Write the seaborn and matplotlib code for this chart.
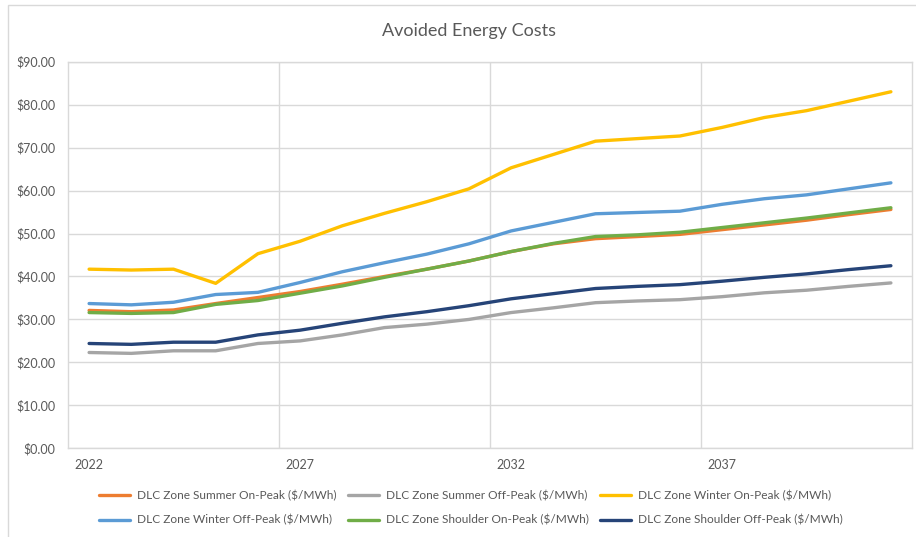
import numpy as np
import pandas as pd
import matplotlib
matplotlib.use("Agg")
import matplotlib.pyplot as plt
import seaborn as sns
from matplotlib.patches import Rectangle
from matplotlib.ticker import FixedLocator, FuncFormatter

years = list(range(2022, 2042))

summer_on = [32.1, 31.8, 32.2, 33.7, 35.1, 36.5, 38.2, 40.0, 41.7, 43.6,
             45.8, 47.6, 48.8, 49.3, 49.8, 50.9, 52.0, 53.1, 54.4, 55.6]
summer_off = [22.3, 22.1, 22.7, 22.7, 24.4, 25.0, 26.4, 28.1, 28.9, 30.0,
              31.6, 32.7, 33.9, 34.3, 34.6, 35.3, 36.2, 36.8, 37.7, 38.5]
winter_on = [41.7, 41.5, 41.7, 38.4, 45.3, 48.2, 51.8, 54.7, 57.4, 60.4,
             65.3, 68.4, 71.5, 72.1, 72.7, 74.7, 77.0, 78.6, 80.8, 83.0]
winter_off = [33.7, 33.4, 34.0, 35.8, 36.3, 38.6, 41.1, 43.2, 45.2, 47.6,
              50.6, 52.6, 54.6, 54.9, 55.2, 56.8, 58.1, 59.0, 60.4, 61.8]
shoulder_on = [31.6, 31.4, 31.6, 33.5, 34.4, 36.1, 37.8, 39.8, 41.7, 43.6,
               45.8, 47.7, 49.3, 49.7, 50.3, 51.4, 52.5, 53.6, 54.8, 56.0]
shoulder_off = [24.4, 24.2, 24.7, 24.7, 26.4, 27.5, 29.1, 30.6, 31.8, 33.2,
                34.8, 36.0, 37.2, 37.7, 38.1, 38.9, 39.8, 40.6, 41.6, 42.5]

series_names = [
    "DLC Zone Summer On-Peak ($/MWh)",
    "DLC Zone Summer Off-Peak ($/MWh)",
    "DLC Zone Winter On-Peak ($/MWh)",
    "DLC Zone Winter Off-Peak ($/MWh)",
    "DLC Zone Shoulder On-Peak ($/MWh)",
    "DLC Zone Shoulder Off-Peak ($/MWh)",
]
series_values = [summer_on, summer_off, winter_on, winter_off, shoulder_on, shoulder_off]
colors = ["#ED7D31", "#A5A5A5", "#FFC000", "#5B9BD5", "#70AD47", "#264478"]

rows = []
for name, vals in zip(series_names, series_values):
    for y, v in zip(years, vals):
        rows.append({"Year": y, "Cost": v, "Series": name})
df = pd.DataFrame(rows)

sns.set_style("white")
plt.rcParams["font.family"] = ["Lato", "DejaVu Sans"]
text_col = "#595959"
grid_col = "#D9D9D9"

fig = plt.figure(figsize=(9.16, 5.37), dpi=100)
ax = fig.add_axes([68/916, 1-448.3/537, (912-68)/916, (448.3-61.7)/537])

sns.lineplot(data=df, x="Year", y="Cost", hue="Series", hue_order=series_names,
             palette=colors, linewidth=2.4, ax=ax, legend=True)

ax.set_xlim(2021.5, 2041.5)
ax.set_ylim(0, 90)
ax.set_yticks(np.arange(0, 91, 10))
ax.yaxis.set_major_formatter(FuncFormatter(lambda v, p: f"${v:.2f}"))
ax.set_xticks([2022, 2027, 2032, 2037])
ax.xaxis.set_minor_locator(FixedLocator([2026.5, 2031.5, 2036.5]))
ax.grid(axis="y", which="major", color=grid_col, linewidth=1)
ax.grid(axis="x", which="minor", color=grid_col, linewidth=1)
ax.grid(axis="x", which="major", visible=False)
ax.tick_params(axis="both", which="both", length=0, labelsize=9, labelcolor=text_col)
ax.tick_params(axis="y", pad=9)
ax.tick_params(axis="x", pad=8)
ax.set_xlabel("")
ax.set_ylabel("")
for s in ax.spines.values():
    s.set_color(grid_col)
    s.set_linewidth(1)
ax.set_axisbelow(True)

# legend in Excel order: 3 columns, filled row by row
handles, labels = ax.get_legend_handles_labels()
order = [0, 3, 1, 4, 2, 5]
ax.legend([handles[i] for i in order], [labels[i] for i in order],
          ncol=3, loc="center", bbox_to_anchor=(471/916, 1-508/537),
          bbox_transform=fig.transFigure, frameon=False, fontsize=8.6,
          labelcolor=text_col, handlelength=2.6, handletextpad=0.59,
          columnspacing=0.92, labelspacing=1.1)

fig.text(469/916, 1-31/537, "Avoided Energy Costs", ha="center", va="center",
         fontsize=13, color=text_col)

# outer chart border
fig.patches.append(Rectangle((8/916, -0.05), 1.2, 1.05 - 5/537, transform=fig.transFigure,
                             fill=False, edgecolor=grid_col, linewidth=1))

fig.savefig("out.png", dpi=100, facecolor="white")
